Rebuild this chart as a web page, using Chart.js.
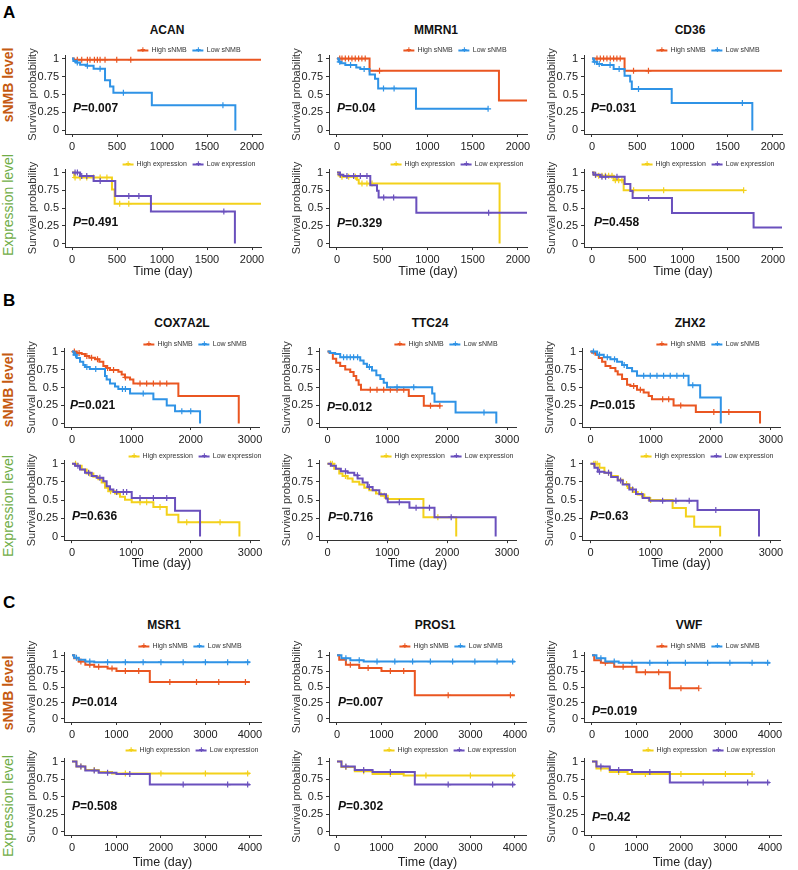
<!DOCTYPE html>
<html>
<head>
<meta charset="utf-8">
<script src="https://cdn.jsdelivr.net/npm/chart.js@4"></script>
<style>
body { margin:0; width:798px; height:870px; background:#fff; position:relative; overflow:hidden;
       font-family:"Liberation Sans", Arial, sans-serif; color:#222; }
canvas { position:absolute; }
.txt { position:absolute; white-space:nowrap; }
.letter { font-weight:bold; font-size:17px; color:#000; }
.gene { font-weight:bold; font-size:12px; color:#111; transform:translate(-50%,-50%); }
.side { font-size:14px; transform:translate(-50%,-50%) rotate(-90deg); }
.legend { display:flex; align-items:center; gap:6px; font-size:7px; color:#333; transform:translate(-50%,-50%); }
.key { display:inline-block; width:11px; height:2px; position:relative; margin-right:3px; }
.key::after { content:'+'; position:absolute; left:50%; top:50%; transform:translate(-50%,-55%); font-size:9px; font-weight:bold; line-height:1; }
.pval { font-weight:bold; font-size:12px; color:#111; transform:translateY(-50%); }
</style>
</head>
<body>
<script>
// ---------- data: [day, survival after event] and censor days ----------
// Panel A
const acanHigh = [[0,1],[20,0.985],[2100,0.985]];
const acanHighCens = [59,108,171,200,249,282,312,367,497,653];
const acanLow = [[0,1],[15,0.965],[45,0.945],[90,0.915],[155,0.9],[240,0.86],[367,0.7],[423,0.61],[460,0.525],[887,0.35],[1815,0]];
const acanLowCens = [59,171,312,571,1677];
const mmrn1High = [[0,1],[360,0.83],[1790,0.415],[2100,0.415]];
const mmrn1HighCens = [30,55,92,128,165,202,239,275,312,470];
const mmrn1Low = [[0,1],[18,0.955],[44,0.935],[92,0.91],[213,0.875],[257,0.855],[360,0.78],[420,0.72],[455,0.585],[873,0.3],[1670,0.3]];
const mmrn1LowCens = [30,150,300,514,631,1670];
const cd36High = [[0,1],[360,0.83],[2100,0.83]];
const cd36HighCens = [55,92,128,165,202,239,275,312,459,624];
const cd36Low = [[0,1],[18,0.955],[55,0.925],[110,0.91],[239,0.855],[360,0.76],[422,0.68],[440,0.575],[881,0.38],[1772,0]];
const cd36LowCens = [30,80,200,300,514,1662];

const acanHighExp = [[0,1],[25,0.93],[444,0.76],[474,0.56],[2100,0.56]];
const acanHighExpCens = [34,90,164,239,313,388,530,631];
const acanLowExp = [[0,1],[90,0.95],[240,0.88],[481,0.67],[877,0.45],[1810,0]];
const acanLowExpCens = [34,60,108,164,313,631,743,1687];
const mmrn1HighExp = [[0,1],[18,0.96],[55,0.94],[220,0.9],[240,0.845],[1797,0]];
const mmrn1HighExpCens = [55,129,203,276,331,387];
const mmrn1LowExp = [[0,1],[30,0.97],[70,0.95],[368,0.82],[442,0.745],[460,0.65],[877,0.435],[2100,0.435]];
const mmrn1LowExpCens = [37,110,184,258,331,516,626,1676];
const cd36HighExp = [[0,1],[20,0.97],[60,0.955],[240,0.89],[350,0.75],[1676,0.75]];
const cd36HighExpCens = [37,74,110,147,184,221,258,295,331,460,792,1676];
const cd36LowExp = [[0,1],[18,0.97],[92,0.94],[361,0.84],[424,0.74],[449,0.64],[884,0.43],[1786,0.225],[2100,0.225]];
const cd36LowExpCens = [40,110,150,276,626];

// Panel B
const coxHigh = [[0,1],[79,0.98],[163,0.965],[219,0.94],[292,0.915],[388,0.895],[461,0.86],[528,0.8],[573,0.77],[640,0.745],[781,0.72],[837,0.68],[893,0.64],[978,0.61],[1034,0.555],[1792,0.38],[2809,0]];
const coxHighCens = [40,120,250,330,430,600,700,900,1146,1258,1371,1483,1596];
const coxLow = [[0,1],[30,0.955],[80,0.91],[135,0.86],[190,0.815],[219,0.785],[300,0.757],[556,0.66],[584,0.61],[640,0.555],[725,0.515],[781,0.48],[978,0.415],[1371,0.335],[1596,0.25],[1736,0.17],[2157,0]];
const coxLowCens = [60,250,400,850,900,1200,1850,2000];
const ttcHigh = [[0,1],[34,0.98],[89,0.9],[145,0.845],[212,0.8],[296,0.75],[380,0.715],[436,0.66],[480,0.6],[520,0.54],[559,0.47],[1358,0.38],[1609,0.245],[1888,0.245]];
const ttcHighCens = [715,827,939,1050,1162,1274,1721,1877];
const ttcLow = [[0,1],[45,0.98],[128,0.965],[212,0.92],[547,0.875],[603,0.83],[659,0.785],[743,0.735],[816,0.67],[883,0.62],[939,0.565],[994,0.505],[1749,0.415],[1788,0.3],[2140,0.152],[2821,0]];
const ttcLowCens = [268,324,380,436,503,700,1162,1441,2615];
const zhxHigh = [[0,1],[28,0.985],[83,0.955],[138,0.91],[193,0.86],[249,0.8],[331,0.77],[414,0.725],[453,0.68],[525,0.62],[608,0.54],[663,0.52],[773,0.47],[884,0.43],[967,0.38],[1022,0.335],[1381,0.25],[1751,0.16],[2818,0]];
const zhxHighCens = [718,829,1200,1300,1500,2050,2300];
const zhxLow = [[0,1],[110,0.955],[221,0.92],[331,0.895],[442,0.86],[525,0.815],[608,0.77],[691,0.725],[773,0.665],[1630,0.53],[1823,0.36],[2166,0]];
const zhxLowCens = [50,150,280,400,560,884,994,1105,1215,1326,1436,1547,1700];

const coxHighExp = [[0,1],[79,0.97],[163,0.92],[247,0.865],[360,0.82],[444,0.785],[500,0.74],[556,0.67],[612,0.62],[725,0.59],[809,0.545],[893,0.505],[1006,0.47],[1371,0.405],[1596,0.3],[1792,0.195],[2820,0]];
const coxHighExpCens = [60,300,650,1146,1258,1483,1933,2157,2494];
const coxLowExp = [[0,1],[51,0.97],[135,0.92],[219,0.875],[331,0.83],[416,0.805],[528,0.76],[584,0.69],[640,0.645],[697,0.61],[1006,0.53],[1736,0.355],[2157,0]];
const coxLowExpCens = [100,280,470,753,865,921,1146,1371,1596];
const ttcHighExp = [[0,1],[112,0.93],[196,0.865],[251,0.83],[335,0.795],[419,0.75],[531,0.715],[615,0.67],[698,0.635],[810,0.59],[894,0.56],[1006,0.515],[1603,0.265],[2151,0]];
const ttcHighExpCens = [50,80,300,950,1844];
const ttcLowExp = [[0,1],[56,0.97],[140,0.93],[223,0.895],[335,0.875],[447,0.84],[503,0.795],[587,0.74],[670,0.68],[754,0.635],[866,0.58],[978,0.52],[1006,0.47],[1369,0.395],[1788,0.265],[2810,0]];
const ttcLowExpCens = [300,500,698,1200,1480,1704,2067];
const zhxHighExp = [[0,1],[149,0.945],[232,0.875],[343,0.83],[453,0.78],[536,0.72],[619,0.665],[702,0.61],[785,0.575],[895,0.535],[978,0.5],[1365,0.39],[1586,0.275],[1724,0.135],[2155,0]];
const zhxHighExpCens = [55,80,110,300,600,850,1000];
const zhxLowExp = [[0,1],[66,0.945],[122,0.89],[232,0.875],[343,0.815],[453,0.77],[536,0.715],[646,0.645],[757,0.585],[867,0.53],[978,0.49],[1779,0.365],[2801,0]];
const zhxLowExpCens = [150,300,500,700,1199,1420,1641,2083];

// Panel C
const msr1High = [[0,1],[50,0.95],[150,0.9],[300,0.85],[500,0.82],[800,0.79],[1000,0.75],[1750,0.58],[4000,0.58]];
const msr1HighCens = [200,400,600,900,1200,1500,2200,2800,3300,3900];
const msr1Low = [[0,1],[50,0.96],[150,0.93],[300,0.9],[500,0.89],[4000,0.89]];
const msr1LowCens = [100,400,800,1200,1600,2000,2500,3000,3500,3950];
const pros1High = [[0,1],[50,0.93],[200,0.85],[500,0.8],[1000,0.75],[1750,0.37],[4000,0.37]];
const pros1HighCens = [300,700,1200,1500,2500,3900];
const pros1Low = [[0,1],[100,0.95],[300,0.92],[600,0.9],[4000,0.9]];
const pros1LowCens = [200,500,900,1300,1700,2100,2600,3100,3600,3950];
const vwfHigh = [[0,1],[50,0.92],[200,0.88],[500,0.82],[1000,0.73],[1750,0.48],[2400,0.48]];
const vwfHighCens = [300,700,1200,1500,2000,2400];
const vwfLow = [[0,1],[100,0.95],[300,0.9],[600,0.88],[4000,0.88]];
const vwfLowCens = [200,500,900,1300,1700,2100,2600,3100,3600,3950];

const msr1HighExp = [[0,1],[100,0.93],[300,0.88],[600,0.85],[900,0.83],[4000,0.83]];
const msr1HighExpCens = [200,500,1200,2000,3000,3950];
const msr1LowExp = [[0,1],[100,0.93],[300,0.87],[600,0.84],[1000,0.82],[1750,0.67],[4000,0.67]];
const msr1LowExpCens = [200,500,800,1300,2500,3500,3950];
const pros1HighExp = [[0,1],[100,0.92],[400,0.86],[800,0.82],[1500,0.8],[4000,0.8]];
const pros1HighExpCens = [200,600,1200,2000,3000,3950];
const pros1LowExp = [[0,1],[100,0.93],[400,0.88],[800,0.85],[1750,0.67],[4000,0.67]];
const pros1LowExpCens = [200,600,1200,2500,3500,3950];
const vwfHighExp = [[0,1],[100,0.9],[400,0.85],[800,0.82],[3600,0.82]];
const vwfHighExpCens = [200,600,1200,2000,3000,3600];
const vwfLowExp = [[0,1],[100,0.93],[400,0.88],[900,0.85],[1750,0.7],[4000,0.7]];
const vwfLowExpCens = [200,600,1300,2500,3500,3950];

// labels, ticks, p values
const GENES_A = ['ACAN', 'MMRN1', 'CD36'];
const GENES_B = ['COX7A2L', 'TTC24', 'ZHX2'];
const GENES_C = ['MSR1', 'PROS1', 'VWF'];
const P_A = [['0.007', '0.04', '0.031'], ['0.491', '0.329', '0.458']];
const P_B = [['0.021', '0.012', '0.015'], ['0.636', '0.716', '0.63']];
const P_C = [['0.014', '0.007', '0.019'], ['0.508', '0.302', '0.42']];
const TICKS_A = [0, 500, 1000, 1500, 2000];
const TICKS_B = [0, 1000, 2000, 3000];
const TICKS_C = [0, 1000, 2000, 3000, 4000];
const Y_TICKS = [0, 0.25, 0.5, 0.75, 1];
const LABELS_SNMB = ['High sNMB', 'Low sNMB'];
const LABELS_EXP = ['High expression', 'Low expression'];

const COR = { high: '#ea5621', low: '#2f93e6', highExp: '#f3d11b', lowExp: '#6a50bd' };

Chart.defaults.font.family = '"Liberation Sans", Arial, sans-serif';
Chart.defaults.color = '#222';

function survAt(curve, t) {
    let s = 1;
    for (const [tt, ss] of curve) if (tt <= t) s = ss;
    return s;
}

function addText(cls, html, x, y) {
    const d = document.createElement('div');
    d.className = 'txt ' + cls;
    d.innerHTML = html;
    d.style.left = x + 'px';
    d.style.top = y + 'px';
    document.body.appendChild(d);
    return d;
}

function addLegend(labels, colors, x, y) {
    const d = addText('legend', '', x, y);
    labels.forEach((lab, i) => {
        const item = document.createElement('span');
        item.innerHTML = '<span class="key" style="background:' + colors[i] + ';color:' + colors[i] + '"></span>' + lab;
        d.appendChild(item);
    });
}

function criarKM(g, ticks, xmax, curves) {
    const YW = 39, PT = 12, PR = 14;
    const left = Math.round(g.L - YW);
    const L = left + YW;
    const xmin = -(g.x0 - L) / g.ppd;
    const right = g.x0 + xmax * g.ppd;
    const unit = g.y0 - g.y1;
    const top = g.y1 - 0.05 * unit;
    const bottom = g.y0 + 0.05 * unit;
    const xh = g.timeY ? g.timeY + 7.5 - bottom : 22;

    const canvas = document.createElement('canvas');
    canvas.width = Math.round(right - left + PR);
    canvas.height = Math.round(bottom - top + PT + xh);
    canvas.style.left = left + 'px';
    canvas.style.top = Math.round(top - PT) + 'px';
    document.body.appendChild(canvas);

    const datasets = [];
    curves.forEach(c => {
        datasets.push({
            data: c.data.map(([t, s]) => ({ x: t, y: s })),
            showLine: true, stepped: true, borderColor: c.color, borderWidth: 2,
            pointRadius: 0, fill: false
        });
        datasets.push({
            data: c.cens.map(t => ({ x: t, y: survAt(c.data, t) })),
            showLine: false, pointStyle: 'cross', pointRadius: 3,
            borderColor: c.color, borderWidth: 1.2
        });
    });

    const axisStyle = {
        border: { display: true, color: '#333', width: 1 },
        grid: { display: true, drawOnChartArea: false, drawTicks: true, tickLength: 3, color: '#333' }
    };

    new Chart(canvas.getContext('2d'), {
        type: 'scatter',
        data: { datasets: datasets },
        options: {
            responsive: false,
            animation: false,
            devicePixelRatio: 1,
            layout: { padding: { top: PT, right: PR, left: 0, bottom: 0 } },
            plugins: { legend: { display: false }, tooltip: { enabled: false } },
            scales: {
                x: Object.assign({
                    type: 'linear', min: xmin, max: xmax,
                    afterBuildTicks: s => { s.ticks = ticks.map(v => ({ value: v })); },
                    afterFit: s => { s.height = xh; },
                    ticks: { font: { size: 11 }, color: '#222', padding: 3, autoSkip: false, maxRotation: 0, callback: v => String(v) },
                    title: { display: !!g.timeY, text: 'Time (day)', font: { size: 12.5 }, color: '#222', padding: 0 }
                }, axisStyle),
                y: Object.assign({
                    type: 'linear', min: -0.05, max: 1.05,
                    afterBuildTicks: s => { s.ticks = Y_TICKS.map(v => ({ value: v })); },
                    afterFit: s => { s.width = YW; },
                    ticks: { font: { size: 11 }, color: '#222', padding: 3, callback: v => String(v) },
                    title: { display: true, text: 'Survival probability', font: { size: 11 }, color: '#333', padding: 0 }
                }, axisStyle)
            }
        }
    });
}

function montarPainel(p) {
    addText('letter', p.letter, 3, p.letterY);
    p.genes.forEach((gene, i) => addText('gene', gene, p.titleX[i], p.titleY));
    p.rows.forEach((row, r) => {
        const exp = r === 1;
        const side = addText('side', exp ? 'Expression level' : '<b>sNMB level</b>', 8, row.sideY);
        side.style.color = exp ? '#70ad47' : '#c55a11';
        p.cols.forEach((col, i) => {
            const g = { L: col.L, x0: col.x0, ppd: col.ppd, y1: row.y1, y0: row.y0, timeY: row.timeY };
            const cv = row.curves[i];
            const colors = exp ? [COR.highExp, COR.lowExp] : [COR.high, COR.low];
            criarKM(g, p.ticks, p.xmax, [
                { data: cv[2], cens: cv[3], color: colors[1] },
                { data: cv[0], cens: cv[1], color: colors[0] }
            ]);
            addLegend(exp ? LABELS_EXP : LABELS_SNMB, colors, row.legX[i], row.legY);
            addText('pval', '<i>P</i>=' + p.pvals[r][i], row.pPos[i][0], row.pPos[i][1]);
        });
    });
}

function main() {
    montarPainel({
        letter: 'A', letterY: 3, genes: GENES_A, titleX: [167, 436, 690], titleY: 30,
        ticks: TICKS_A, xmax: 2100, pvals: P_A,
        cols: [{ L: 64.5, x0: 72, ppd: 0.09 }, { L: 328.5, x0: 337, ppd: 0.0905 }, { L: 583.5, x0: 592, ppd: 0.0905 }],
        rows: [
            { y1: 59, y0: 131, timeY: null, legY: 49, sideY: 85, legX: [189, 455, 708],
              pPos: [[73, 108], [337, 108], [591, 108]],
              curves: [[acanHigh, acanHighCens, acanLow, acanLowCens], [mmrn1High, mmrn1HighCens, mmrn1Low, mmrn1LowCens], [cd36High, cd36HighCens, cd36Low, cd36LowCens]] },
            { y1: 173, y0: 244, timeY: 272, legY: 163, sideY: 205, legX: [189, 457, 708],
              pPos: [[73, 222], [337, 223], [594, 222]],
              curves: [[acanHighExp, acanHighExpCens, acanLowExp, acanLowExpCens], [mmrn1HighExp, mmrn1HighExpCens, mmrn1LowExp, mmrn1LowExpCens], [cd36HighExp, cd36HighExpCens, cd36LowExp, cd36LowExpCens]] }
        ]
    });
    montarPainel({
        letter: 'B', letterY: 291, genes: GENES_B, titleX: [182, 430, 690], titleY: 323,
        ticks: TICKS_B, xmax: 3150, pvals: P_B,
        cols: [{ L: 63.5, x0: 72, ppd: 0.0595 }, { L: 319, x0: 327.5, ppd: 0.0597 }, { L: 582, x0: 590.5, ppd: 0.0603 }],
        rows: [
            { y1: 352, y0: 424, timeY: null, legY: 343, sideY: 390, legX: [195, 446, 708],
              pPos: [[70, 405], [327, 407], [590, 405]],
              curves: [[coxHigh, coxHighCens, coxLow, coxLowCens], [ttcHigh, ttcHighCens, ttcLow, ttcLowCens], [zhxHigh, zhxHighCens, zhxLow, zhxLowCens]] },
            { y1: 464, y0: 537, timeY: 564, legY: 455, sideY: 506, legX: [195, 447, 707],
              pPos: [[72, 516], [328, 517], [590, 516]],
              curves: [[coxHighExp, coxHighExpCens, coxLowExp, coxLowExpCens], [ttcHighExp, ttcHighExpCens, ttcLowExp, ttcLowExpCens], [zhxHighExp, zhxHighExpCens, zhxLowExp, zhxLowExpCens]] }
        ]
    });
    montarPainel({
        letter: 'C', letterY: 593, genes: GENES_C, titleX: [164, 435, 689], titleY: 625,
        ticks: TICKS_C, xmax: 4250, pvals: P_C,
        cols: [{ L: 64, x0: 72, ppd: 0.0445 }, { L: 329, x0: 337, ppd: 0.0445 }, { L: 584, x0: 592, ppd: 0.0445 }],
        rows: [
            { y1: 655, y0: 719, timeY: null, legY: 645, sideY: 693, legX: [190, 451, 708],
              pPos: [[72, 702], [338, 702], [592, 711]],
              curves: [[msr1High, msr1HighCens, msr1Low, msr1LowCens], [pros1High, pros1HighCens, pros1Low, pros1LowCens], [vwfHigh, vwfHighCens, vwfLow, vwfLowCens]] },
            { y1: 761, y0: 831, timeY: 862, legY: 749, sideY: 806, legX: [192, 450, 709],
              pPos: [[72, 806], [338, 806], [592, 817]],
              curves: [[msr1HighExp, msr1HighExpCens, msr1LowExp, msr1LowExpCens], [pros1HighExp, pros1HighExpCens, pros1LowExp, pros1LowExpCens], [vwfHighExp, vwfHighExpCens, vwfLowExp, vwfLowExpCens]] }
        ]
    });
}

main();
</script>
</body>
</html>
